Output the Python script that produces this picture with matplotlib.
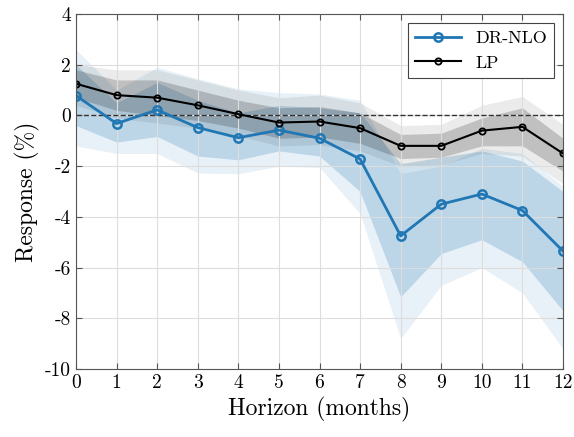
import numpy as np
import matplotlib
matplotlib.use("Agg")
import matplotlib.pyplot as plt

plt.rcParams['font.family'] = ['cmr10', 'DejaVu Serif']
plt.rcParams['axes.unicode_minus'] = False

horizon = np.arange(13)

drnlo = [0.78, -0.32, 0.22, -0.48, -0.88, -0.58, -0.9, -1.72, -4.75, -3.5, -3.1, -3.75, -5.35]
drnlo_in_lo = [-0.4, -1.05, -0.83, -1.6, -1.75, -1.4, -1.6, -3.0, -7.15, -5.45, -4.9, -5.77, -7.7]
drnlo_in_hi = [2.0, 0.5, 1.3, 0.6, 0.1, 0.4, 0.3, 0.1, -1.9, -1.65, -1.4, -1.8, -3.0]
drnlo_out_lo = [-1.2, -1.5, -1.5, -2.27, -2.3, -2.0, -2.05, -3.87, -8.8, -6.7, -6.0, -7.0, -9.2]
drnlo_out_hi = [2.6, 1.0, 1.9, 1.45, 1.05, 0.9, 0.85, 0.6, -2.3, -2.0, -1.3, -1.5, -2.8]

lp = [1.25, 0.8, 0.7, 0.4, 0.05, -0.28, -0.24, -0.5, -1.2, -1.2, -0.6, -0.45, -1.5]
lp_in_lo = [0.7, 0.2, 0.0, -0.2, -0.5, -0.9, -0.85, -1.1, -1.7, -1.65, -1.2, -1.2, -2.2]
lp_in_hi = [1.8, 1.4, 1.4, 1.0, 0.6, 0.3, 0.35, 0.1, -0.75, -0.7, -0.1, 0.3, -0.9]
lp_out_lo = [0.4, -0.1, -0.3, -0.5, -0.8, -1.2, -1.15, -1.4, -2.0, -1.95, -1.5, -1.6, -2.7]
lp_out_hi = [2.0, 1.8, 1.8, 1.4, 1.0, 0.7, 0.8, 0.5, -0.4, -0.35, 0.4, 0.75, -0.35]

blue = '#2077b4'

fig = plt.figure(figsize=(5.74, 4.37), dpi=100)
ax = fig.add_axes([76 / 574, 1 - 369 / 437, 487 / 574, 355 / 437])

ax.fill_between(horizon, drnlo_out_lo, drnlo_out_hi, color=blue, alpha=0.1, lw=0)
ax.fill_between(horizon, drnlo_in_lo, drnlo_in_hi, color=blue, alpha=0.22, lw=0)
ax.fill_between(horizon, lp_out_lo, lp_out_hi, color='black', alpha=0.08, lw=0)
ax.fill_between(horizon, lp_in_lo, lp_in_hi, color='black', alpha=0.18, lw=0)

ax.axhline(0, color='#333333', ls='--', lw=1)
ax.plot(horizon, drnlo, '-o', color=blue, lw=2, ms=6, mfc='none', mew=1.8, label='DR-NLO')
ax.plot(horizon, lp, '-o', color='black', lw=1.5, ms=4.5, mfc='none', mew=1.3, label='LP')

ax.set_xlim(0, 12)
ax.set_ylim(-10, 4)
ax.set_xticks(horizon)
ax.set_yticks(np.arange(-10, 5, 2))
ax.grid(True, color='#dddddd', lw=0.8)
ax.tick_params(direction='in', top=True, right=True, labelsize=14, length=4, color='#555555')
for s in ax.spines.values():
    s.set_color('#555555')
ax.set_xlabel('Horizon (months)', fontsize=17)
ax.set_ylabel('Response (%)', fontsize=17)
leg = ax.legend(loc='upper right', fontsize=13, fancybox=False, edgecolor='#444444',
                framealpha=1, handlelength=2.5, borderaxespad=0.5)
leg.get_frame().set_linewidth(0.8)

fig.savefig('out.png', dpi=100)
